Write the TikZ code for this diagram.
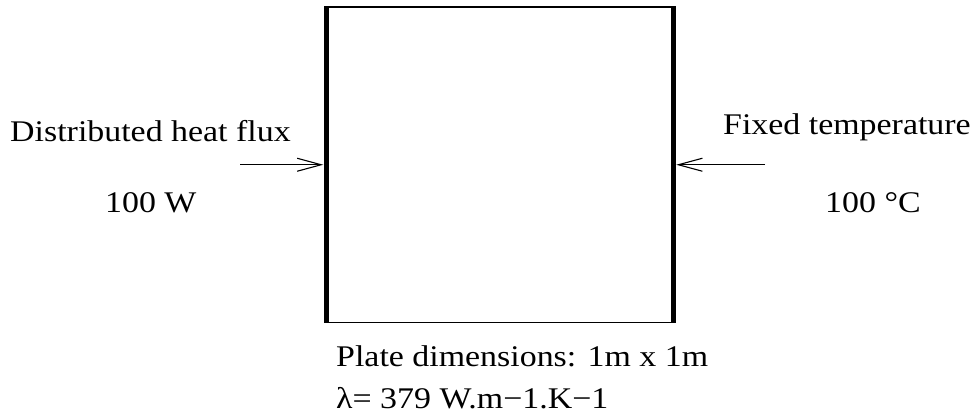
\documentclass[tikz,border=0pt]{standalone}
\usepackage{fontspec}
\setmainfont{Liberation Serif}[FakeStretch=1.13]
\usepackage{tikz}
\usetikzlibrary{arrows.meta}

\begin{document}
\begin{tikzpicture}[x=1pt, y=1pt,
    lbl/.style={inner sep=0pt, anchor=base west, font=\fontsize{30}{36}\selectfont},
    bcarrow/.style={line width=1.1pt, -{Straight Barb[length=24pt, width=13pt, line width=1.1pt]}, shorten >=3pt}]
  \useasboundingbox (0,0) rectangle (979,414);

  % Plate
  \node[draw, line width=1.5pt, minimum width=345.5pt, minimum height=315.5pt, inner sep=0pt] (plate) at (499.75,249.25) {};
  \draw[line width=5.5pt] (plate.north west) -- (plate.south west);
  \draw[line width=5.5pt] (plate.north east) -- (plate.south east);

  % Left side: heat flux
  \node[lbl] (fluxlbl) at (10,272) {Distributed heat flux};
  \node[lbl] (fluxval) at (105,201) {100 W};
  \coordinate (fluxtail) at (240,249.25);
  \draw[bcarrow] (fluxtail) -- (plate.west);

  % Right side: fixed temperature
  \node[lbl] (templbl) at (723,279) {Fixed temperature};
  \node[lbl] (tempval) at (825,201) {100 °C};
  \coordinate (temptail) at (765,249.25);
  \draw[bcarrow] (temptail) -- (plate.east);

  % Plate data
  \node[lbl] (dimlbl) at (336,47) {Plate dimensions: 1m x 1m};
  \node[lbl] (condlbl) at (336,5) {λ= 379 W.m−1.K−1};
\end{tikzpicture}
\end{document}
